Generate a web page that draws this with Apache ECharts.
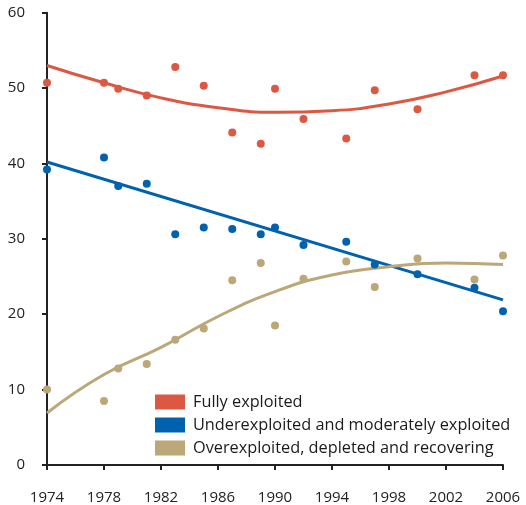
<!DOCTYPE html>
<html><head><meta charset="utf-8">
<script src="https://cdn.jsdelivr.net/npm/echarts@6/dist/echarts.min.js"></script>
<style>html,body{margin:0;padding:0;background:#fff}#c{width:526px;height:505px}</style>
</head><body><div id="c"></div>
<script>
const years = [1974,1978,1979,1981,1983,1985,1987,1989,1990,1992,1995,1997,2000,2004,2006];
const fully = [50.7,50.7,49.9,49.0,52.8,50.3,44.1,42.6,49.9,45.9,43.3,49.7,47.2,51.7,51.7];
const under = [39.2,40.8,37.0,37.3,30.6,31.5,31.3,30.6,31.5,29.2,29.6,26.6,25.3,23.5,20.4];
const over  = [10.0,8.5,12.8,13.4,16.6,18.1,24.5,26.8,18.5,24.7,27.0,23.6,27.4,24.6,27.8];
const trendYears = [1974,1978,1982,1986,1990,1994,1998,2002,2006];
const fullyTrend = [53.0,50.7,48.7,47.4,46.8,47.0,47.9,49.5,51.6];
const underTrendYears = [1974,2006];
const underTrend = [40.2,21.9];
const overTrend = [6.9,12.0,15.6,19.7,23.0,25.2,26.3,26.8,26.6];
const names = ['Fully exploited','Underexploited and moderately exploited','Overexploited, depleted and recovering'];
const colors = ['#dd5843','#0062ae','#bba778'];
const xTicks = [1974,1978,1982,1986,1990,1994,1998,2002,2006];

const pair = (xs, ys) => xs.map((x,i)=>[x, ys[i]]);
const font = '"Open Sans", "Noto Sans", sans-serif';
const chart = echarts.init(document.getElementById('c'));
const scat = (name, data, color) => ({
  name, type:'scatter', data, symbolSize:8, itemStyle:{color, opacity:1}, z:3
});
const trend = (data, color) => ({
  type:'line', data, smooth:true, showSymbol:false, symbol:'none',
  lineStyle:{color, width:3}, z:2, silent:true
});
chart.setOption({
  animation:false,
  textStyle:{fontFamily:font},
  grid:{left:47,right:23,top:12.7,bottom:40,containLabel:false,outerBoundsMode:'none'},
  xAxis:{type:'value',min:1974,max:2006,interval:4,
    axisLine:{lineStyle:{color:'#222',width:2}},
    axisTick:{show:true,length:5,lineStyle:{color:'#222',width:2}},
    splitLine:{show:false},
    axisLabel:{color:'#222',fontSize:15,margin:25,fontFamily:font,formatter:v=>String(v)}},
  yAxis:{type:'value',min:0,max:60,interval:10,
    axisLine:{show:true,lineStyle:{color:'#222',width:2}},
    axisTick:{show:true,length:5,lineStyle:{color:'#222',width:2}},
    splitLine:{show:false},
    axisLabel:{color:'#222',fontSize:15,margin:22,fontFamily:font}},
  legend:{data:names.map(n=>({name:n,itemStyle:{opacity:1}})),orient:'vertical',left:150,top:389,itemWidth:30,itemHeight:15,itemGap:7,
    icon:'rect',textStyle:{color:'#1a1a1a',fontSize:16.3,fontFamily:font,padding:[0,0,0,3]},selectedMode:false},
  series:[
    trend(pair(trendYears,fullyTrend),colors[0]),
    trend(pair(underTrendYears,underTrend),colors[1]),
    trend(pair(trendYears,overTrend),colors[2]),
    scat(names[0],pair(years,fully),colors[0]),
    scat(names[1],pair(years,under),colors[1]),
    scat(names[2],pair(years,over),colors[2])
  ]
});
</script></body></html>
